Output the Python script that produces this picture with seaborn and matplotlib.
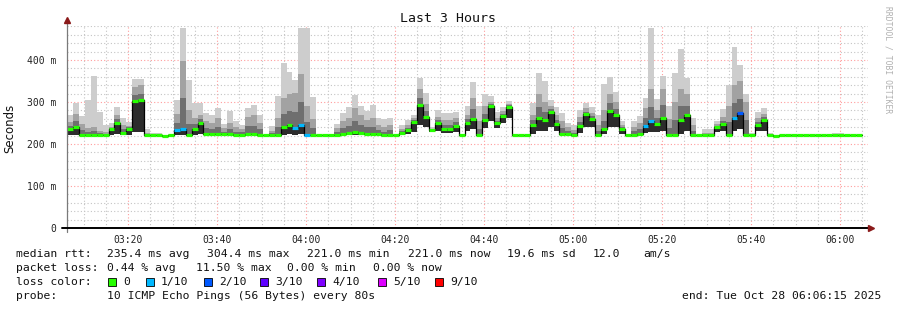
import numpy as np
import pandas as pd
import matplotlib
matplotlib.use("Agg")
import matplotlib.pyplot as plt
import seaborn as sns
from matplotlib.ticker import MultipleLocator, FuncFormatter
from matplotlib.patches import Rectangle

# ---------------- data ----------------
start_min = 6.25          # 03:06:15, minutes after 03:00
step_min = 80 / 60        # one probe round every 80 s
end_min = 186.25          # 06:06:15

median_ms = [
    236, 241, 222, 222, 222, 222, 222, 236, 251, 227,
    236, 303, 304, 221, 221, 221, 220, 222, 233, 236,
    222, 236, 250, 225, 225, 223, 223, 223, 221, 222,
    225, 223, 222, 221, 221, 222, 240, 246, 238, 246,
    222, 222, 221, 221, 221, 222, 225, 227, 229, 227,
    225, 223, 223, 221, 222, 221, 227, 233, 252, 294,
    265, 233, 249, 236, 236, 244, 222, 249, 260, 222,
    256, 290, 251, 267, 289, 222, 221, 221, 246, 263,
    257, 276, 248, 223, 223, 222, 243, 271, 260, 221,
    236, 278, 270, 236, 221, 222, 223, 244, 254, 248,
    262, 222, 222, 256, 268, 221, 221, 221, 221, 240,
    248, 222, 262, 273, 222, 222, 246, 256, 222, 220,
    222, 222, 222, 222, 222, 222, 222, 222, 222, 222,
    222, 222, 222, 222,
]
max_ms = [
    269, 298, 267, 305, 362, 276, 245, 250, 288, 262,
    252, 355, 355, 236, 226, 226, 222, 224, 305, 476,
    352, 298, 298, 275, 269, 286, 248, 279, 255, 246,
    286, 294, 269, 222, 243, 314, 394, 371, 352, 476,
    476, 311, 222, 222, 222, 248, 275, 287, 316, 290,
    279, 294, 263, 259, 263, 223, 245, 257, 270, 357,
    322, 240, 281, 275, 275, 276, 225, 290, 348, 290,
    319, 314, 276, 288, 302, 222, 221, 221, 298, 368,
    349, 305, 287, 275, 250, 245, 282, 298, 287, 269,
    344, 359, 324, 255, 222, 255, 267, 310, 476, 308,
    363, 290, 368, 427, 357, 262, 222, 235, 235, 255,
    284, 340, 432, 389, 319, 226, 276, 286, 226, 222,
    222, 222, 222, 222, 222, 222, 222, 222, 222, 226,
    226, 222, 222, 222,
]
mid_ms = [
    253, 271, 248, 237, 241, 232, 228, 240, 270, 245,
    244, 335, 340, 226, 222, 222, 221, 222, 271, 398,
    281, 262, 270, 255, 250, 262, 238, 250, 240, 235,
    265, 268, 250, 221, 232, 262, 310, 320, 322, 367,
    290, 260, 221, 221, 221, 238, 255, 262, 285, 268,
    258, 262, 245, 240, 245, 221, 235, 245, 262, 330,
    295, 236, 265, 258, 258, 262, 222, 270, 310, 255,
    290, 300, 262, 278, 296, 222, 221, 221, 270, 320,
    300, 290, 268, 255, 240, 233, 265, 285, 275, 245,
    280, 320, 300, 245, 221, 240, 250, 285, 330, 280,
    330, 260, 300, 330, 320, 245, 221, 226, 226, 248,
    265, 290, 340, 350, 300, 222, 262, 272, 222, 221,
    222, 222, 222, 222, 222, 222, 222, 222, 222, 222,
    222, 222, 222, 222,
]
min_ms = [
    222, 222, 221, 221, 221, 221, 221, 222, 225, 222,
    222, 229, 229, 221, 221, 221, 220, 221, 222, 222,
    221, 222, 224, 221, 221, 221, 221, 221, 220, 221,
    221, 221, 221, 221, 221, 221, 222, 223, 222, 223,
    221, 221, 221, 221, 221, 221, 221, 221, 222, 221,
    221, 221, 221, 220, 221, 221, 222, 224, 228, 245,
    240, 228, 232, 226, 226, 228, 221, 230, 235, 221,
    238, 255, 238, 250, 262, 221, 221, 221, 224, 230,
    232, 240, 230, 221, 221, 221, 226, 240, 240, 221,
    225, 240, 240, 225, 221, 221, 221, 226, 228, 228,
    230, 221, 221, 225, 230, 221, 221, 221, 221, 228,
    230, 221, 232, 235, 221, 221, 230, 232, 221, 220,
    221, 221, 221, 221, 221, 221, 221, 221, 221, 221,
    221, 221, 221, 221,
]
loss_tenths = [0] * len(median_ms)
for i in (18, 19, 38, 39, 40, 97, 98, 112):
    loss_tenths[i] = 1
loss_tenths[113] = 2

loss_labels = ["0", "1/10", "2/10", "3/10", "4/10", "5/10", "9/10"]
loss_values = [0, 1, 2, 3, 4, 5, 9]
loss_colors = ["#26ff00", "#00b8ff", "#0059ff", "#5e00ff", "#7e00ff", "#dd00ff", "#ff0000"]

title = "Last 3 Hours"
ylabel = "Seconds"
stats_rtt = [("median rtt:", 16), ("235.4 ms avg", 107), ("304.4 ms max", 207),
             ("221.0 ms min", 307), ("221.0 ms now", 408), ("19.6 ms sd", 507),
             ("12.0", 593), ("am/s", 643)]
stats_loss = [("packet loss:", 16), ("0.44 % avg", 107), ("11.50 % max", 196),
              ("0.00 % min", 287), ("0.00 % now", 373)]
probe_text = "10 ICMP Echo Pings (56 Bytes) every 80s"
end_text = "end: Tue Oct 28 06:06:15 2025"

# ---------------- figure ----------------
W, H = 897, 310
sns.set_theme(style="white")
plt.rcParams["font.family"] = ["DejaVu Sans Mono", "DejaVu Sans"]
fig = plt.figure(figsize=(W / 100, H / 100), dpi=100)
fig.patch.set_facecolor("white")
ax = fig.add_axes([67 / W, 82 / H, 801 / W, 201.6 / H])
ax.set_facecolor("white")

n = len(median_ms)
df = pd.DataFrame({
    "t": start_min + np.arange(n) * step_min,
    "median": median_ms, "max": max_ms, "mid": mid_ms, "min": min_ms, "loss": loss_tenths,
})
edges = np.append(df["t"].values, df["t"].values[-1] + step_min)

def ext(a):
    a = np.asarray(a, dtype=float)
    return np.append(a, a[-1])

lo = ext(df["min"]); hi = ext(df["max"]); mid = ext(df["mid"]); med = ext(df["median"])
dark = med + (np.maximum(mid, med) - med) * 0.45

ax.fill_between(edges, lo, hi, step="post", color="#cdcdcd", lw=0, zorder=2)
ax.fill_between(edges, lo, mid, step="post", color="#a2a2a2", lw=0, zorder=3)
ax.fill_between(edges, lo, dark, step="post", color="#6f6f6f", lw=0, zorder=4)
ax.fill_between(edges, lo, med, step="post", color="#2c2c2c", lw=0, zorder=5)

line_df = pd.DataFrame({"t": edges, "median": med})
sns.lineplot(data=line_df, x="t", y="median", drawstyle="steps-post", color="black",
             lw=0.9, ax=ax, zorder=6)
cmap = dict(zip(loss_values, loss_colors))
ax.hlines(df["median"], df["t"], df["t"] + step_min,
          colors=[cmap[v] for v in df["loss"]], lw=2.3, zorder=7)

ax.set_xlim(start_min, end_min)
ax.set_ylim(0, 480)
ax.xaxis.set_major_locator(MultipleLocator(20))
ax.xaxis.set_minor_locator(MultipleLocator(5))
ax.yaxis.set_major_locator(MultipleLocator(100))
ax.yaxis.set_minor_locator(MultipleLocator(20))
ax.xaxis.set_major_formatter(FuncFormatter(lambda v, p: f"{3 + int(v) // 60:02d}:{int(v) % 60:02d}"))
ax.yaxis.set_major_formatter(FuncFormatter(lambda v, p: "0" if v == 0 else f"{int(v)} m"))
ax.grid(which="major", color="#ff9c9c", ls=(0, (1, 2)), lw=0.8, zorder=1)
ax.grid(which="minor", color="#c4c4c4", ls=(0, (1, 2)), lw=0.8, zorder=1)
ax.set_axisbelow(True)
for s in ax.spines.values():
    s.set_visible(False)
ax.tick_params(axis="both", which="both", direction="out", colors="#333333")
ax.tick_params(axis="x", which="major", length=2, pad=3, labelsize=7)
ax.tick_params(axis="x", which="minor", length=0)
ax.tick_params(axis="y", which="major", length=3, pad=5, labelsize=7, color="#777777")
ax.tick_params(axis="y", which="minor", length=2, color="#999999")
ax.set_xlabel(""); ax.set_ylabel("")
for lab in ax.get_xticklabels() + ax.get_yticklabels():
    lab.set_color("#222222")

# axes lines with arrows
ax.plot([0, 0], [-0.02, 1.03], transform=ax.transAxes, color="#7a7a7a", lw=0.9,
        clip_on=False, zorder=8)
ax.plot([-0.006, 1.004], [0, 0], transform=ax.transAxes, color="black", lw=1.4,
        clip_on=False, zorder=8)
ax.plot([0], [1.03], transform=ax.transAxes, marker="^", ms=4.5, color="#8b1a1a",
        clip_on=False, zorder=9)
ax.plot([1.004], [0], transform=ax.transAxes, marker=">", ms=4.5, color="#8b1a1a",
        clip_on=False, zorder=9)

def ftext(x, y, s, **kw):
    fig.text(x / W, 1 - y / H, s, va="center", **kw)

ftext(448, 19, title, ha="center", fontsize=9.5, color="#111111")
fig.text(10 / W, 1 - 128 / H, ylabel, rotation=90, ha="center", va="center",
         fontsize=8.5, family="DejaVu Sans", color="#111111")
fig.text(888 / W, 1 - 60 / H, "RRDTOOL / TOBI OETIKER", rotation=-90, ha="center",
         va="center", fontsize=5.8, color="#b0b0b0")

fs = 8.2
for s, x in stats_rtt:
    ftext(x, 254, s, fontsize=fs, color="#111111")
for s, x in stats_loss:
    ftext(x, 268, s, fontsize=fs, color="#111111")
ftext(16, 282, "loss color:", fontsize=fs, color="#111111")
sq_x = [108, 146, 204, 260, 317, 378, 435]
for lab, col, x in zip(loss_labels, loss_colors, sq_x):
    fig.add_artist(Rectangle((x / W, 1 - 286 / H), 8 / W, 8 / H, transform=fig.transFigure,
                             facecolor=col, edgecolor="black", lw=0.6))
    ftext(x + 15, 282, lab, fontsize=fs, color="#111111")
ftext(16, 296, "probe:", fontsize=fs, color="#111111")
ftext(107, 296, probe_text, fontsize=fs, color="#111111")
ftext(881, 296, end_text, ha="right", fontsize=fs, color="#111111")

fig.savefig("out.png", dpi=100, facecolor="white")
